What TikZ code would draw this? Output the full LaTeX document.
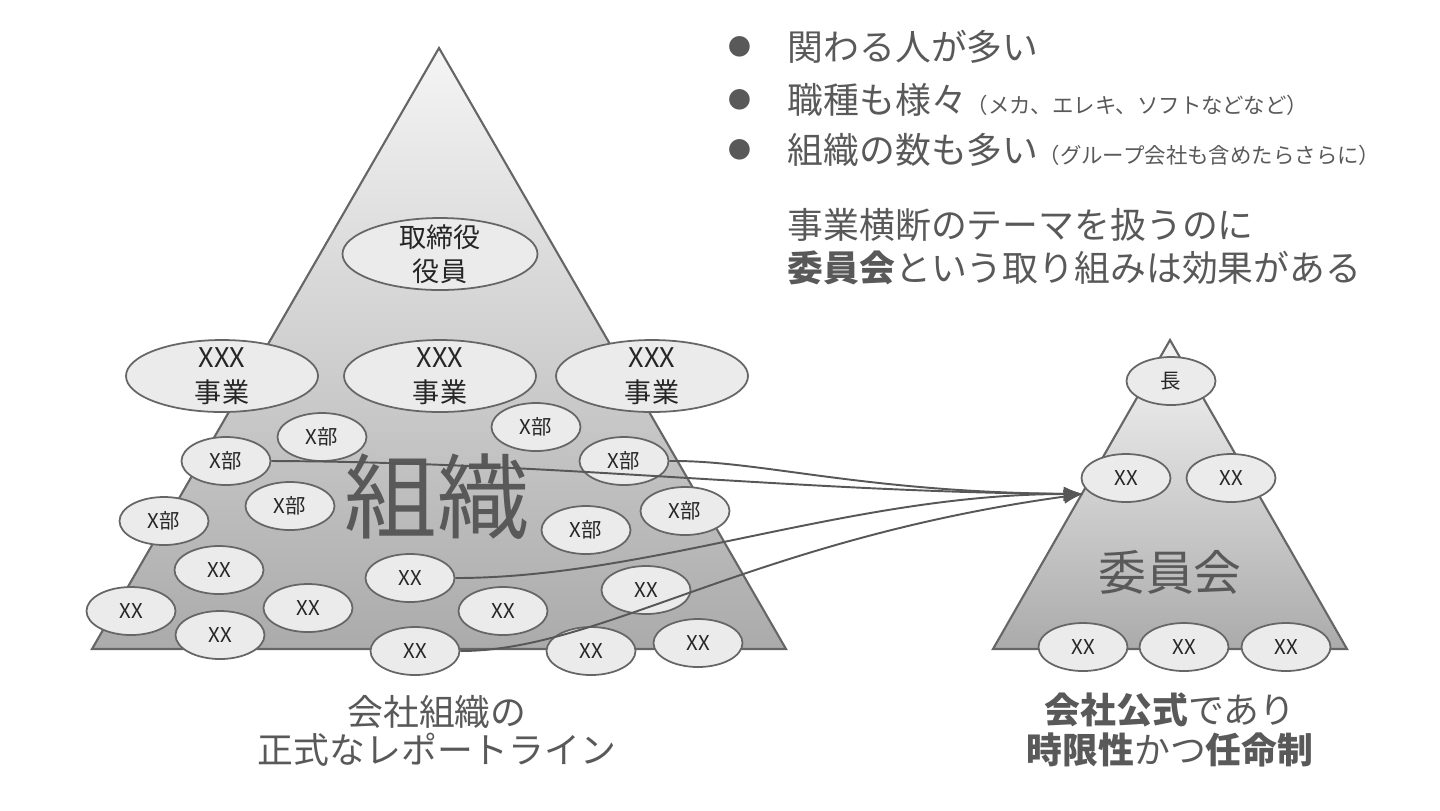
\documentclass[tikz,border=0pt]{standalone}
\usepackage{fontspec}
\setmainfont{Noto Sans CJK JP}
\usetikzlibrary{arrows.meta,shapes.geometric}

\definecolor{edgegray}{HTML}{666666}
\definecolor{txtgray}{HTML}{595959}
\definecolor{bubblefill}{HTML}{EBEBEB}
\newcommand{\aside}{\fontsize{6.1}{6.5}\selectfont}

\begin{document}
\begin{tikzpicture}[>=Latex,
    bubble/.style={ellipse, draw=edgegray, line width=0.5pt, fill=bubblefill, inner sep=0pt, text=black!85},
    bigbubble/.style={bubble, minimum width=1.92cm, minimum height=0.72cm},
    smallbubble/.style={bubble, minimum width=0.89cm, minimum height=0.48cm, font=\fontsize{5.8}{6}\selectfont},
    bubbletext/.style={inner sep=0pt, align=center, text=black!85, font=\fontsize{7.7}{9.8}\selectfont},
    pyramid/.style={draw=edgegray, line width=0.6pt, top color=gray!8, bottom color=gray!66},
    bigword/.style={inner sep=0pt, text=txtgray},
    link/.style={->, draw=edgegray!85!black, line width=0.55pt},
    say/.style={inner sep=0pt, text=txtgray, font=\fontsize{10.2}{12.2}\selectfont}]
  \useasboundingbox (0,0) rectangle (14.4,-8.1);

  % company organisation
  \draw[pyramid] (0.92,-6.49) -- (4.39,-0.48) -- (7.86,-6.49) -- cycle;
  \node[bigword, font=\fontsize{26.3}{27}\selectfont] (orgword) at (4.37,-4.97) {組織};
  \node[bigbubble, minimum width=1.95cm] (exec) at (4.40,-2.54) {};
  \node[bubbletext] (execlbl) at (exec) {取締役\\役員};
  \foreach \n/\x in {biz1/2.22, biz2/4.40, biz3/6.52} {
    \node[bigbubble] (\n) at (\x,-3.76) {};
    \node[bubbletext] (\n lbl) at (\n) {XXX\\事業};
  }
  \foreach \n/\x/\y in {d1/3.22/4.37, d2/2.26/4.61, d3/5.36/4.27, d4/6.24/4.61,
                        d5/2.90/5.06, d6/1.64/5.21, d7/5.86/5.30, d8/6.85/5.11}
    \node[smallbubble] (\n) at (\x,-\y) {X部};
  \foreach \n/\x/\y in {u1/2.19/5.70, u2/1.31/6.11, u3/2.20/6.35, u4/3.08/6.08, u5/4.10/5.78,
                        u6/5.03/6.11, u7/4.15/6.51, u8/6.46/5.90, u9/5.91/6.51, u10/6.98/6.43}
    \node[smallbubble] (\n) at (\x,-\y) {XX};

  % committee
  \draw[pyramid] (9.93,-6.49) -- (11.70,-3.40) -- (13.47,-6.49) -- cycle;
  \node[bigword, font=\fontsize{13.6}{14}\selectfont] (cmtword) at (11.70,-5.72) {委員会};
  \node[smallbubble] (chief) at (11.71,-3.81) {長};
  \node[smallbubble] (m1) at (11.26,-4.78) {XX};
  \node[smallbubble] (m2) at (12.31,-4.78) {XX};
  \node[smallbubble] (k1) at (10.83,-6.47) {XX};
  \node[smallbubble] (k2) at (11.84,-6.47) {XX};
  \node[smallbubble] (k3) at (12.86,-6.47) {XX};

  \coordinate (entry) at (10.83,-4.94);
  \draw[link] (d2.east) .. controls (5.5,-4.62) and (8.0,-4.92) .. (entry);
  \draw[link] (d4.east) .. controls (7.6,-4.60) and (8.6,-4.92) .. (entry);
  \draw[link] (u5.east) .. controls (6.5,-5.78) and (8.5,-4.94) .. (entry);
  \draw[link] (u7.east) .. controls (6.0,-6.51) and (7.5,-5.40) .. (entry);

  % notes
  \foreach \n/\y in {dot1/0.47, dot2/1.00, dot3/1.50}
    \node[say, font=\fontsize{6.5}{7}\selectfont] (\n) at (7.40,-\y) {●};
  \node[say, anchor=west] (item1) at (7.87,-0.47) {関わる人が多い};
  \node[say, anchor=west] (item2) at (7.87,-1.00) {職種も様々{\aside（メカ、エレキ、ソフトなどなど）}};
  \node[say, anchor=west] (item3) at (7.87,-1.50) {組織の数も多い{\aside（グループ会社も含めたらさらに）}};
  \node[say, anchor=west, align=left] (theme) at (7.87,-2.465)
    {事業横断のテーマを扱うのに\\\textbf{委員会}という取り組みは効果がある};

  \node[say, align=center, font=\fontsize{10.2}{10.9}\selectfont] (orgcap) at (4.37,-7.31)
    {会社組織の\\正式なレポートライン};
  \node[say, align=center, font=\fontsize{10.2}{11.3}\selectfont] (cmtcap) at (11.70,-7.30)
    {\textbf{会社公式}であり\\\textbf{時限性}かつ\textbf{任命制}};
\end{tikzpicture}
\end{document}
